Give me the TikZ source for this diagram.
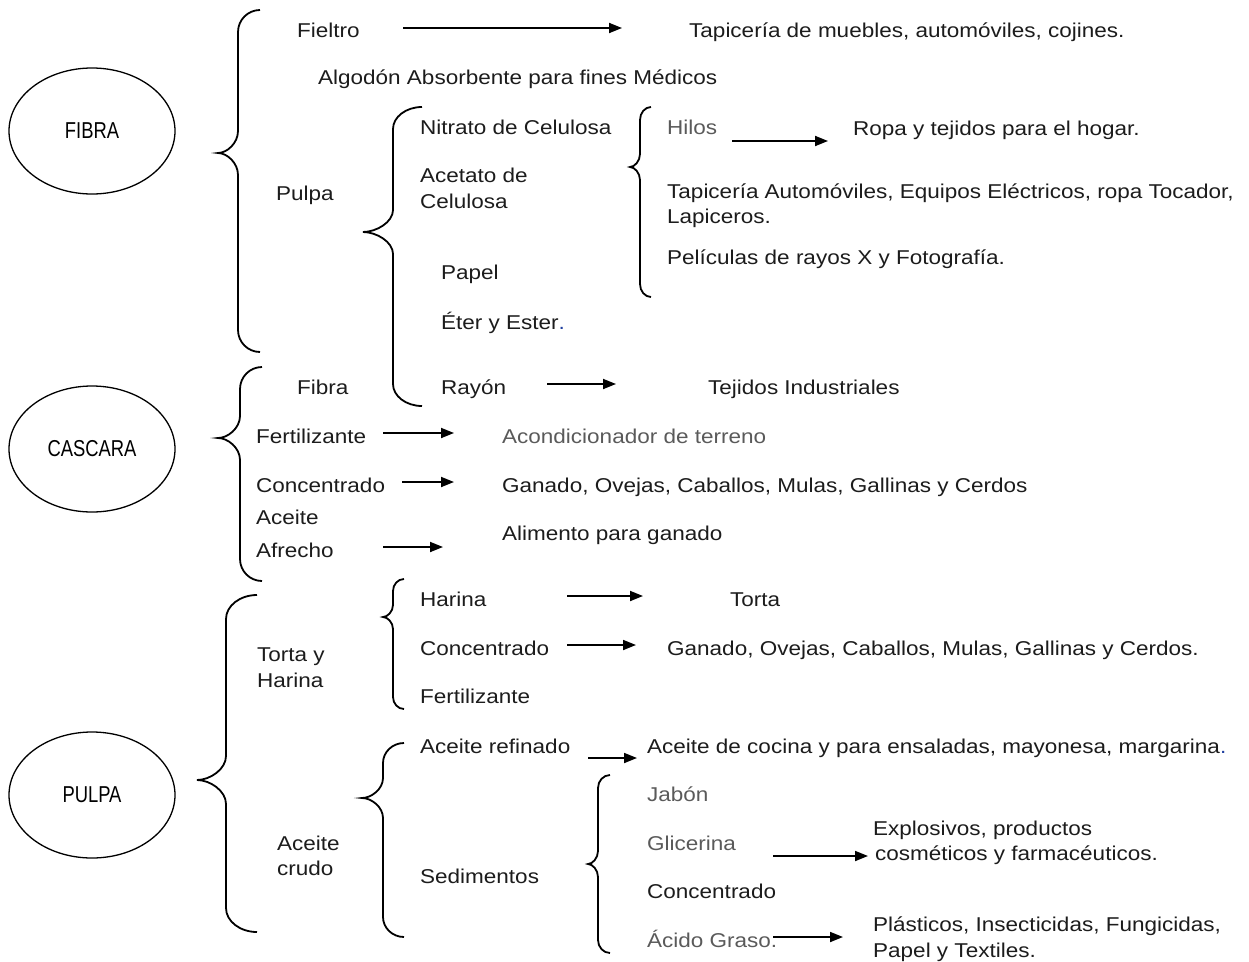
\documentclass[tikz,border=0pt]{standalone}
\usepackage{fontspec}
\setmainfont[FakeStretch=1.125]{Liberation Sans}
\newfontfamily\ellfont[FakeStretch=0.8]{Liberation Sans}
\usetikzlibrary{arrows.meta,shapes.geometric}
\definecolor{textc}{HTML}{1C1C1C}
\definecolor{grayc}{HTML}{5A5A5A}
\definecolor{bluedot}{HTML}{1F3FA0}
\newcommand\mybrace[7]{% xe xv xt ytop ytip ybot r
  \draw[bracel] (#1,#4) .. controls ({#2+0.45*(#1-#2)},#4) and (#2,{#4+0.45*#7}) .. (#2,{#4+#7})
    -- (#2,{#5-#7})
    .. controls (#2,{#5-0.45*#7}) and ({#3+0.45*(#2-#3)},#5) .. (#3,#5)
    .. controls ({#3+0.45*(#2-#3)},#5) and (#2,{#5+0.45*#7}) .. (#2,{#5+#7})
    -- (#2,{#6-#7})
    .. controls (#2,{#6-0.45*#7}) and ({#2+0.45*(#1-#2)},#6) .. (#1,#6);}
\begin{document}
\begin{tikzpicture}[x=1pt,y=-1pt,
  txt/.style={anchor=base west, inner sep=0pt, text=textc, font=\fontsize{20}{24}\selectfont},
  gtxt/.style={txt, text=grayc},
  ell/.style={ellipse, draw=black, line width=1.3pt, inner sep=0pt, minimum width=166pt, minimum height=126pt, text=black, font=\ellfont\fontsize{23}{24}\selectfont},
  bracel/.style={draw=black, line width=1.8pt},
  arr/.style={draw=black, line width=1.8pt, -{Triangle[length=13pt,width=10pt]}}
]
\useasboundingbox (0,0) rectangle (1249,961);
\fill[white] (0,0) rectangle (1249,961);

% ellipses
\node[ell] (fibra) at (92,131) {FIBRA};
\node[ell] (cascara) at (92,449) {CASCARA};
\node[ell] (pulpa) at (92,795) {PULPA};

% braces
\mybrace{260}{238}{218}{10}{153}{352}{22}
\mybrace{422}{393}{363}{107}{232}{406}{22}
\mybrace{651}{640}{630}{107}{167}{297}{13}
\mybrace{262}{240}{218}{367}{438}{581}{22}
\mybrace{257}{226}{197}{595}{780}{932}{24}
\mybrace{404}{393}{383}{579}{617}{709}{12}
\mybrace{404}{383}{362}{743}{798}{937}{20}
\mybrace{610}{598}{588}{775}{864}{953}{13}

% FIBRA branch
\node[txt] (fieltro) at (297,37) {Fieltro};
\node[txt] (fieltrou) at (689,37) {Tapicería de muebles, automóviles, cojines.};
\node[txt] (algodon) at (318,84) {Algodón Absorbente para fines Médicos};
\node[txt] (pulpaf) at (276,200) {Pulpa};
\node[txt] (nitrato) at (420,134) {Nitrato de Celulosa};
\node[txt] (acetato1) at (420,182) {Acetato de};
\node[txt] (acetato2) at (420,208) {Celulosa};
\node[txt] (papel) at (441,279) {Papel};
\node[txt] (eter) at (441,329) {Éter y Ester\textcolor{bluedot}{.}};
\node[txt] (rayon) at (441,394) {Rayón};
\node[txt] (tejidos) at (708,394) {Tejidos Industriales};
\node[gtxt] (hilos) at (667,134) {Hilos};
\node[txt] (ropa) at (853,135) {Ropa y tejidos para el hogar.};
\node[txt] (tapic1) at (667,198) {Tapicería Automóviles, Equipos Eléctricos, ropa Tocador,};
\node[txt] (tapic2) at (667,223) {Lapiceros.};
\node[txt] (peliculas) at (667,264) {Películas de rayos X y Fotografía.};

% CASCARA branch
\node[txt] (fibrac) at (297,394) {Fibra};
\node[txt] (fertc) at (256,443) {Fertilizante};
\node[txt] (concc) at (256,492) {Concentrado};
\node[txt] (aceitec) at (256,524) {Aceite};
\node[txt] (afrecho) at (256,557) {Afrecho};
\node[gtxt] (acond) at (502,443) {Acondicionador de terreno};
\node[txt] (ganadoc) at (502,492) {Ganado, Ovejas, Caballos, Mulas, Gallinas y Cerdos};
\node[txt] (alimento) at (502,540) {Alimento para ganado};

% PULPA branch
\node[txt] (torta1) at (257,661) {Torta y};
\node[txt] (torta2) at (257,687) {Harina};
\node[txt] (harina) at (420,606) {Harina};
\node[txt] (torta) at (730,606) {Torta};
\node[txt] (concp) at (420,655) {Concentrado};
\node[txt] (ganadop) at (667,655) {Ganado, Ovejas, Caballos, Mulas, Gallinas y Cerdos.};
\node[txt] (fertp) at (420,703) {Fertilizante};
\node[txt] (acref) at (420,753) {Aceite refinado};
\node[txt] (cocina) at (647,753) {Aceite de cocina y para ensaladas, mayonesa, margarina\textcolor{bluedot}{.}};
\node[txt] (crudo1) at (277,850) {Aceite};
\node[txt] (crudo2) at (277,875) {crudo};
\node[txt] (sedim) at (420,883) {Sedimentos};
\node[gtxt] (jabon) at (647,801) {Jabón};
\node[gtxt] (glic) at (647,850) {Glicerina};
\node[txt] (explo1) at (873,835) {Explosivos, productos};
\node[txt] (explo2) at (875,860) {cosméticos y farmacéuticos.};
\node[txt] (concs) at (647,898) {Concentrado};
\node[gtxt] (acido) at (647,947) {Ácido Graso.};
\node[txt] (plast1) at (873,931) {Plásticos, Insecticidas, Fungicidas,};
\node[txt] (plast2) at (873,957) {Papel y Textiles.};

% arrow end points
\coordinate (a1s) at (403,28);  \coordinate (a1e) at (622,28);
\coordinate (a2s) at (732,141); \coordinate (a2e) at (828,141);
\coordinate (a3s) at (547,384); \coordinate (a3e) at (616,384);
\coordinate (a4s) at (383,433); \coordinate (a4e) at (454,433);
\coordinate (a5s) at (402,482); \coordinate (a5e) at (454,482);
\coordinate (a6s) at (383,547); \coordinate (a6e) at (443,547);
\coordinate (a7s) at (567,596); \coordinate (a7e) at (643,596);
\coordinate (a8s) at (567,645); \coordinate (a8e) at (636,645);
\coordinate (a9s) at (588,758); \coordinate (a9e) at (637,758);
\coordinate (a10s) at (773,856); \coordinate (a10e) at (868,856);
\coordinate (a11s) at (773,937); \coordinate (a11e) at (843,937);

\draw[arr] (a1s) -- (a1e);
\draw[arr] (a2s) -- (a2e);
\draw[arr] (a3s) -- (a3e);
\draw[arr] (a4s) -- (a4e);
\draw[arr] (a5s) -- (a5e);
\draw[arr] (a6s) -- (a6e);
\draw[arr] (a7s) -- (a7e);
\draw[arr] (a8s) -- (a8e);
\draw[arr] (a9s) -- (a9e);
\draw[arr] (a10s) -- (a10e);
\draw[arr] (a11s) -- (a11e);
\end{tikzpicture}
\end{document}
